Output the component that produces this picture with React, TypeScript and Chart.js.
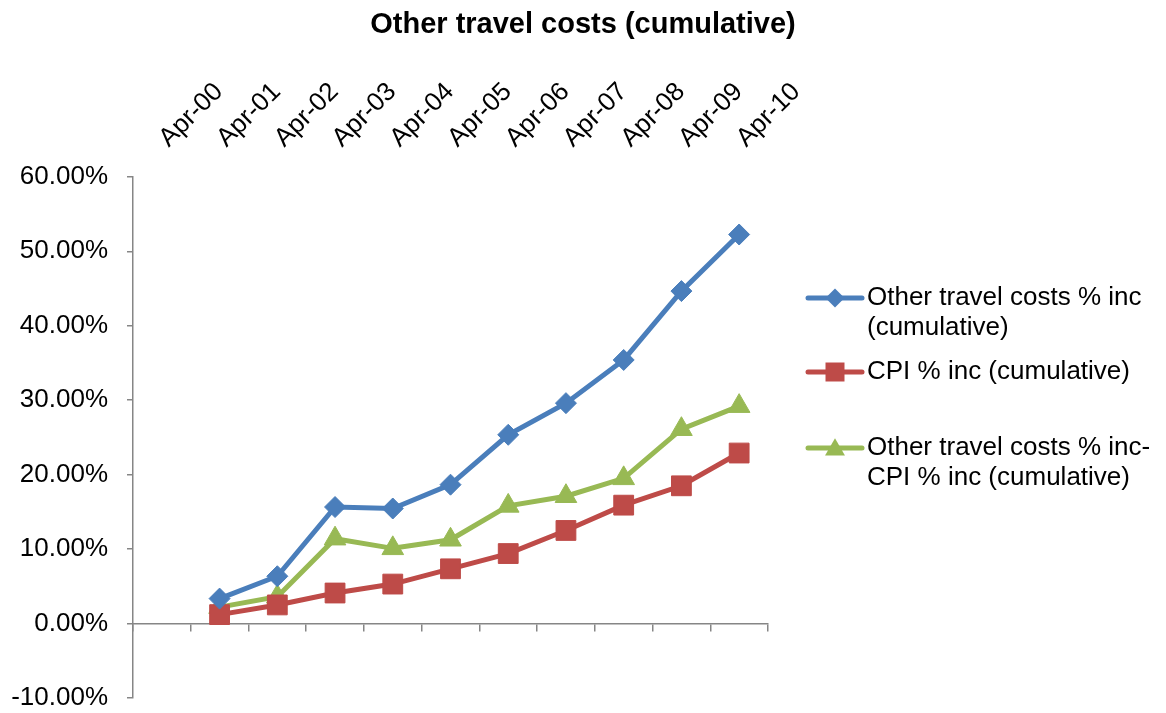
import React, { useEffect, useRef } from 'react';
import { Chart, registerables } from 'chart.js';

Chart.register(...registerables);

const categories: string[] = ['Apr-00', 'Apr-01', 'Apr-02', 'Apr-03', 'Apr-04', 'Apr-05', 'Apr-06', 'Apr-07', 'Apr-08', 'Apr-09', 'Apr-10'];
const otherTravelInc: (number | null)[] = [null, 3.35, 6.35, 15.65, 15.45, 18.65, 25.35, 29.6, 35.4, 44.65, 52.25];
const cpiInc: (number | null)[] = [null, 1.2, 2.5, 4.1, 5.3, 7.35, 9.4, 12.5, 15.9, 18.5, 22.9];
const diffInc: (number | null)[] = [null, 2.2, 3.6, 11.4, 10.1, 11.25, 15.8, 17.1, 19.5, 26.1, 29.2];

const seriesNames: string[][] = [
  ['Other travel costs % inc', '(cumulative)'],
  ['CPI % inc (cumulative)'],
  ['Other travel costs % inc-', 'CPI % inc (cumulative)'],
];
const seriesColors: string[] = ['#4A7EBB', '#BE4B48', '#98B954'];
const seriesMarkers: string[] = ['rectRot', 'rect', 'triangle'];
const seriesRadius: number[] = [10.5, 14, 12.5];

const yMin = -10;
const yMax = 60;
const yStep = 10;

const FONT = '"Liberation Sans", Arial, sans-serif';
const AXIS_GRAY = '#868686';

function drawMarker(ctx: CanvasRenderingContext2D, style: string, x: number, y: number, color: string) {
  ctx.save();
  ctx.fillStyle = color;
  ctx.beginPath();
  if (style === 'rectRot') {
    const r = 9.5;
    ctx.moveTo(x, y - r);
    ctx.lineTo(x + r, y);
    ctx.lineTo(x, y + r);
    ctx.lineTo(x - r, y);
  } else if (style === 'rect') {
    const s = 9.5;
    ctx.rect(x - s, y - s, 2 * s, 2 * s);
  } else {
    const r = 11.5;
    ctx.moveTo(x, y - r * 0.85);
    ctx.lineTo(x + r * 0.866, y + r * 0.65);
    ctx.lineTo(x - r * 0.866, y + r * 0.65);
  }
  ctx.closePath();
  ctx.fill();
  ctx.restore();
}

const sideLegend = {
  id: 'sideLegend',
  afterDraw(chart: any) {
    const ctx: CanvasRenderingContext2D = chart.ctx;
    const x0 = chart.chartArea.right + 40;
    const rowY = [298, 372, 448];
    const lineGap = 30;
    ctx.save();
    chart.data.datasets.forEach((ds: any, i: number) => {
      const y = rowY[i];
      ctx.strokeStyle = ds.borderColor;
      ctx.lineWidth = 5;
      ctx.lineCap = 'round';
      ctx.beginPath();
      ctx.moveTo(x0, y);
      ctx.lineTo(x0 + 54, y);
      ctx.stroke();
      drawMarker(ctx, ds.pointStyle, x0 + 27, y, ds.borderColor);
      ctx.fillStyle = '#000';
      ctx.font = `26px ${FONT}`;
      ctx.textBaseline = 'middle';
      ctx.textAlign = 'left';
      seriesNames[i].forEach((line, j) => {
        ctx.fillText(line, x0 + 59, y + j * lineGap);
      });
    });
    ctx.restore();
  },
};

export default function App() {
  const canvasRef = useRef<HTMLCanvasElement | null>(null);

  useEffect(() => {
    document.body.style.margin = '0';
    const canvas = canvasRef.current;
    if (!canvas) return;
    const values = [otherTravelInc, cpiInc, diffInc];
    const chart = new Chart(canvas, {
      type: 'line',
      data: {
        labels: categories,
        datasets: values.map((v, i) => ({
          label: seriesNames[i].join(' '),
          data: v,
          borderColor: seriesColors[i],
          backgroundColor: seriesColors[i],
          pointBackgroundColor: seriesColors[i],
          pointBorderColor: seriesColors[i],
          borderWidth: 5,
          pointStyle: seriesMarkers[i] as any,
          pointRadius: seriesRadius[i],
          pointHoverRadius: seriesRadius[i],
          pointBorderWidth: 1,
          tension: 0,
          fill: false,
          xAxisID: 'x',
          yAxisID: 'y',
        })),
      },
      options: {
        responsive: false,
        animation: false,
        devicePixelRatio: 1,
        layout: { padding: { left: 0, right: 0, top: 0, bottom: 13 } },
        plugins: {
          legend: { display: false },
          tooltip: { enabled: false },
          title: {
            display: true,
            text: 'Other travel costs (cumulative)',
            color: '#000',
            font: { family: FONT, size: 29, weight: 'bold', lineHeight: 1.2 },
            padding: { top: 8, bottom: 0 },
          },
        },
        scales: {
          x: {
            type: 'category',
            position: 'top',
            offset: true,
            grid: { display: false, drawTicks: false },
            border: { display: false },
            ticks: {
              autoSkip: false,
              minRotation: 45,
              maxRotation: 45,
              padding: 23,
              labelOffset: 24,
              color: '#000',
              font: { family: FONT, size: 26 },
            },
            afterFit: (scale: any) => {
              scale.height = 134;
              scale.paddingLeft = 0;
              scale.paddingRight = 0;
            },
          },
          x2: {
            type: 'category',
            position: { y: 0 } as any,
            offset: true,
            grid: {
              offset: true,
              drawOnChartArea: false,
              drawTicks: true,
              tickLength: 7,
              color: AXIS_GRAY,
              lineWidth: 1.5,
            },
            border: { color: AXIS_GRAY, width: 1.5 },
            ticks: { display: false },
            afterFit: (scale: any) => {
              scale.paddingLeft = 0;
              scale.paddingRight = 0;
            },
          },
          y: {
            type: 'linear',
            position: 'left',
            min: yMin,
            max: yMax,
            grid: {
              drawOnChartArea: false,
              drawTicks: true,
              tickLength: 6,
              color: AXIS_GRAY,
              lineWidth: 1.5,
            },
            border: { color: AXIS_GRAY, width: 1.5 },
            ticks: {
              stepSize: yStep,
              padding: 19,
              color: '#000',
              font: { family: FONT, size: 26 },
              callback: (v: any) => Number(v).toFixed(2) + '%',
            },
            afterFit: (scale: any) => {
              scale.width = 133;
              scale.paddingTop = 0;
              scale.paddingBottom = 0;
            },
          },
          legendSpace: {
            type: 'linear',
            position: 'right',
            min: yMin,
            max: yMax,
            grid: { display: false, drawTicks: false },
            border: { display: false },
            ticks: { display: false },
            afterFit: (scale: any) => {
              scale.width = 398;
              scale.paddingTop = 0;
              scale.paddingBottom = 0;
            },
          },
        },
      },
      plugins: [sideLegend],
    });
    return () => chart.destroy();
  }, []);

  return (
    <div style={{ position: 'fixed', left: 0, top: 0, width: 1166, height: 713, background: '#fff' }}>
      <canvas ref={canvasRef} width={1166} height={713} style={{ display: 'block', width: 1166, height: 713 }} />
    </div>
  );
}
